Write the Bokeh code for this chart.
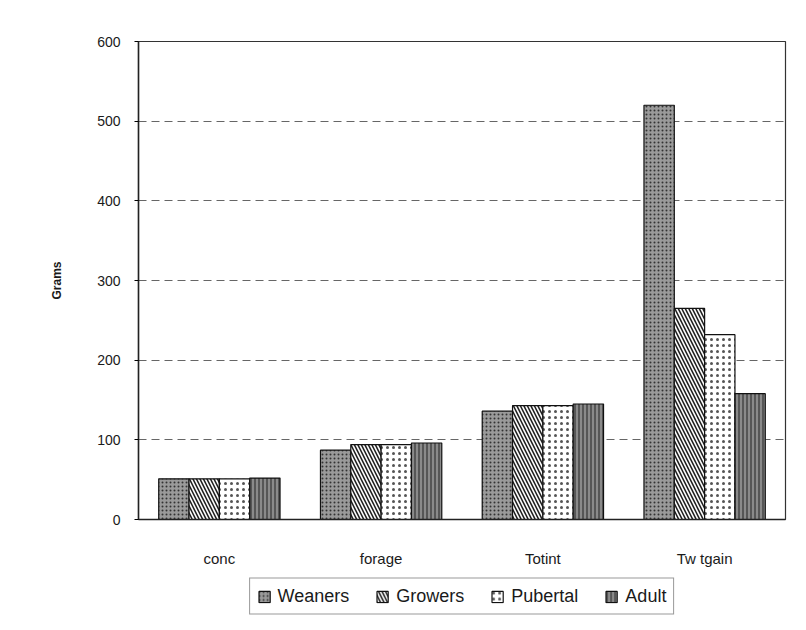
from bokeh.plotting import figure
from bokeh.models import ColumnDataSource, Legend, LegendItem, FactorRange
from bokeh.layouts import column
from bokeh.transform import dodge
from bokeh.embed import file_html
from bokeh.resources import INLINE

categories = ["conc", "forage", "Totint", "Tw tgain"]
weaners = [51, 87, 136, 520]
growers = [51, 94, 143, 265]
pubertal = [51, 94, 143, 232]
adult = [52, 96, 145, 158]
series_names = ["Weaners", "Growers", "Pubertal", "Adult"]
y_ticks = [0, 100, 200, 300, 400, 500, 600]

src = ColumnDataSource(dict(cat=categories, Weaners=weaners, Growers=growers,
                            Pubertal=pubertal, Adult=adult))

p = figure(x_range=FactorRange(*categories), y_range=(0, 600),
           width=790, height=572, output_backend="svg", toolbar_location=None,
           min_border_left=138, min_border_right=5, min_border_top=41, min_border_bottom=53)

FONT = "Liberation Sans"
TXT = "#1a1a1a"
styles = [
    dict(fill_color="#9a9a9a", hatch_pattern="dot", hatch_color="#333333", hatch_scale=4, hatch_weight=1),
    dict(fill_color="white", hatch_pattern="left_diagonal_line", hatch_color="#222222", hatch_scale=7, hatch_weight=1.6),
    dict(fill_color="white", hatch_pattern="dot", hatch_color="#555555", hatch_scale=6, hatch_weight=1),
    dict(fill_color="#8a8a8a", hatch_pattern="vertical_line", hatch_color="#222222", hatch_scale=4, hatch_weight=1),
]
w = 0.1875
offsets = [-1.5 * w, -0.5 * w, 0.5 * w, 1.5 * w]
for name, off, st in zip(series_names, offsets, styles):
    p.vbar(x=dodge("cat", off, range=p.x_range), top=name, width=w, source=src,
           line_color="#111111", line_width=1.2, **st)

p.yaxis.ticker = y_ticks
p.yaxis.axis_label = "Grams"
p.yaxis.axis_label_text_font = FONT
p.yaxis.axis_label_text_font_style = "bold"
p.yaxis.axis_label_text_font_size = "12px"
p.yaxis.axis_label_text_color = TXT
p.yaxis.axis_label_standoff = 30
p.yaxis.major_label_text_font = FONT
p.yaxis.major_label_text_font_size = "14px"
p.yaxis.major_label_text_color = TXT
p.yaxis.major_label_standoff = 14
p.yaxis.minor_tick_line_color = None
p.yaxis.major_tick_in = 0
p.yaxis.major_tick_out = 4
p.yaxis.axis_line_color = "#222222"
p.yaxis.axis_line_width = 1.5

p.xaxis.major_label_text_font = FONT
p.xaxis.major_label_text_font_size = "15px"
p.xaxis.major_label_text_color = TXT
p.xaxis.major_label_standoff = 24
p.xaxis.major_tick_line_color = None
p.xaxis.axis_line_color = "#222222"
p.xaxis.axis_line_width = 1.5

p.xgrid.grid_line_color = None
p.ygrid.grid_line_color = "#666666"
p.ygrid.grid_line_dash = "8 5"
p.ygrid.grid_line_width = 1
p.outline_line_color = "#333333"
p.outline_line_width = 1.2
p.x_range.range_padding = 0.0
p.x_range.group_padding = 0.0

# legend figure below the chart (swatch renderers sit outside its visible range)
lg = figure(width=790, height=48, x_range=(0, 1), y_range=(0, 1),
            output_backend="svg", toolbar_location=None,
            min_border_left=138, min_border_right=5, min_border_top=0, min_border_bottom=0)
lg.axis.visible = False
lg.grid.grid_line_color = None
lg.outline_line_color = None
swatch = ColumnDataSource(dict(x=[-10.0], top=[-10.0]))
items = []
for name, st in zip(series_names, styles):
    r = lg.vbar(x="x", top="top", width=0.1, source=swatch,
                line_color="#111111", line_width=1.2, **st)
    items.append(LegendItem(label=name, renderers=[r]))

legend = Legend(items=items, orientation="horizontal", location="center",
                label_text_font=FONT, label_text_font_size="18px", label_text_color=TXT,
                glyph_width=14, glyph_height=14, spacing=26, label_standoff=7,
                border_line_color="#333333", border_line_width=1.2,
                padding=7, margin=0, background_fill_alpha=0)
lg.add_layout(legend, "center")

layout = column(p, lg, spacing=0)
open("out.html", "w").write(file_html(layout, INLINE))
